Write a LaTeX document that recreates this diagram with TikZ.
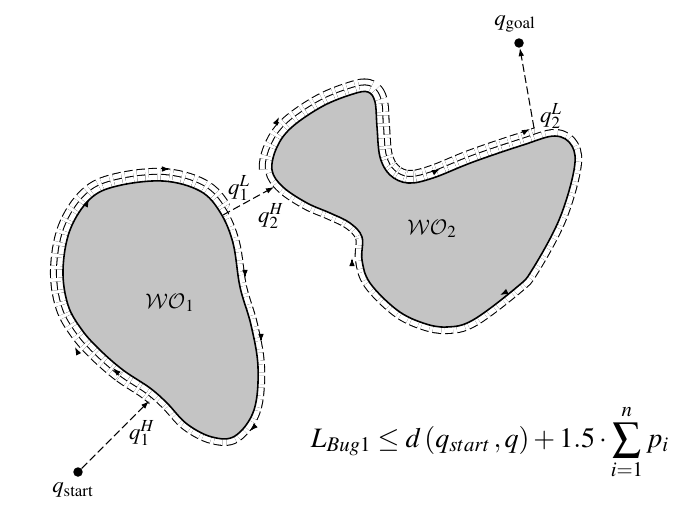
\documentclass[tikz,border=0pt]{standalone}
\usepackage{mathptmx}
\usepackage{fontspec}
\setmainfont{Liberation Serif}
\usetikzlibrary{arrows.meta}
\DeclareMathAlphabet{\mathcalcm}{OMS}{cmsy}{m}{n}
\definecolor{ObsGray}{HTML}{C4C4C4}
\newcommand\wobone{plot[smooth cycle, tension=0.6] coordinates {(150,388) (123,370) (100,350) (82,330) (68,305) (63,270) (70,230) (90,199) (117,186) (163,181) (200,191) (220,212) (233,243) (240,287) (251,325) (258,367) (254,410) (235,436) (212,437) (187,424) (167,403)}}
\newcommand\wobtwo{plot[smooth cycle, tension=0.6] coordinates {(272,170) (277,147) (292,127) (323,106) (353,94) (368,92) (375,102) (377,127) (380,157) (390,175) (408,183) (433,178) (473,162) (523,145) (555,136) (572,146) (574,170) (559,220) (532,270) (517,287) (473,320) (447,327) (423,323) (397,310) (370,283) (362,260) (362,237) (350,223) (330,213) (307,203) (283,187)}}
\tikzset{
  obstacle/.style={draw=black, line width=0.9pt, fill=ObsGray, line join=round},
  trail/.style={draw=black, line width=0.6pt, double=white, dash pattern=on 4.5pt off 2pt, line join=round},
  innertrail/.style={trail, double distance=6.8pt},
  outertrail/.style={trail, double distance=13.6pt},
  hop/.style={line width=0.6pt, dash pattern=on 4.5pt off 2pt},
  tip/.style={-{Latex[length=4.6pt, width=3.2pt]}, line width=0.6pt},
  dot/.style={circle, fill=black, inner sep=0pt, minimum size=5.4pt},
  lab/.style={font=\fontsize{13}{15}\selectfont, inner sep=0pt},
  bound/.style={font=\fontsize{16}{18}\selectfont, inner sep=0pt}
}
\begin{document}
\begin{tikzpicture}[x=0.02cm, y=-0.02cm]
\useasboundingbox (0,0) rectangle (692,521);
% second pass along the shorter side
\begin{scope}
\clip (165,300) -- (141,460) -- (0,460) -- (0,140) -- (274,140) -- cycle;
\draw[outertrail] \wobone;
\end{scope}
\begin{scope}
\clip (300,172) -- (228,175) -- (228,40) -- (536,40) -- (534,160) -- (430,205) -- cycle;
\draw[outertrail] \wobtwo;
\end{scope}
% full loops
\draw[innertrail] \wobone;
\draw[innertrail] \wobtwo;
\draw[obstacle] \wobone;
\draw[obstacle] \wobtwo;
\node[lab] (wo1) at (170,303) {$\mathcalcm{WO}_1$};
\node[lab] (wo2) at (432,229) {$\mathcalcm{WO}_2$};
% points
\node[dot] (qs) at (78,472) {};
\node[dot] (qg) at (519,43) {};
\coordinate (q1H) at (149,401);
\coordinate (q1L) at (223,215);
\coordinate (q2H) at (274,187);
\coordinate (q2L) at (534,128);
\draw[hop, tip] (qs) -- (q1H);
\draw[hop, tip] (q1L) -- (q2H);
\draw[hop, tip] (q2L) -- (qg);
% direction marks
\draw[tip] (88,201) -- (89,199);
\draw[tip] (168,169) -- (170,169);
\draw[tip] (245,276) -- (245,278);
\draw[tip] (261,340) -- (261,342);
\draw[tip] (252,429) -- (250,431);
\draw[tip] (76,349) -- (75,347);
\draw[tip] (115,370) -- (113,368);
\draw[tip] (278,119) -- (279,117);
\draw[tip] (438,170) -- (440,169);
\draw[tip] (528,130) -- (530,129);
\draw[tip] (502,294) -- (500,295);
\draw[tip] (352,260) -- (352,258);
% labels
\node[lab] (lqs) at (73,490) {$q_{\mathrm{start}}$};
\node[lab] (lqg) at (515,24) {$q_{\mathrm{goal}}$};
\node[lab] (lq1H) at (142,433) {$q_1^H$};
\node[lab] (lq1L) at (239,188) {$q_1^L$};
\node[lab] (lq2H) at (271,216) {$q_2^H$};
\node[lab] (lq2L) at (551,116) {$q_2^L$};
\node[bound, anchor=base] (lbug) at (490,447) {$L_{Bug1}\le d\,(q_{start}\,, q)+1.5\cdot\mathop{\vcenter{\hbox{\scalebox{1.45}{$\sum$}}}}\limits_{i=1}^{n} p_i$};
\end{tikzpicture}
\end{document}
